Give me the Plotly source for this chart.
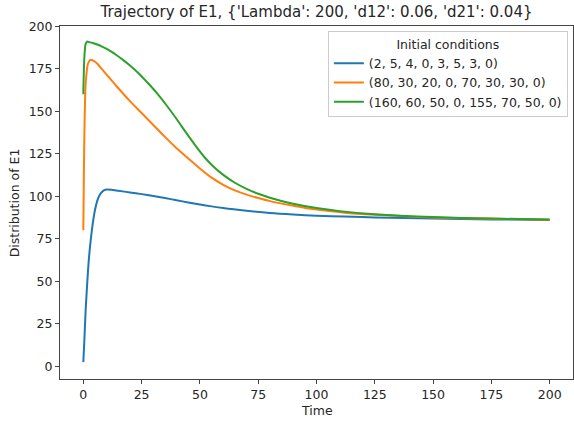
import plotly.graph_objects as go

title_text = "Trajectory of E1, {'Lambda': 200, 'd12': 0.06, 'd21': 0.04}"
legend_title = "Initial conditions"
x_label = "Time"
y_label = "Distribution of E1"
tick_values = [0, 25, 50, 75, 100, 125, 150, 175, 200]
series_names = ["(2, 5, 4, 0, 3, 5, 3, 0)",
                "(80, 30, 20, 0, 70, 30, 30, 0)",
                "(160, 60, 50, 0, 155, 70, 50, 0)"]
colors = ["#1f77b4", "#ff7f0e", "#2ca02c"]

t_blue = [0, 0.5, 1, 1.5, 2, 2.5, 3, 4, 5, 6, 7, 8, 9, 10, 12, 15, 20, 25, 30, 35, 40,
          45, 50, 55, 60, 70, 80, 90, 100, 112, 125, 150, 175, 200]
v_blue = [2.5, 17, 33, 45, 56, 65, 72, 83.5, 92, 97.5, 100.8, 102.6, 103.6, 104, 103.9, 103.3, 102.3, 101.3, 100.2, 99, 97.7,
          96.4, 95.2, 94.1, 93.1, 91.5, 90.2, 89.3, 88.6, 88.1, 87.6, 86.9, 86.4, 86.1]

t_orange = [0, 0.25, 0.5, 0.75, 1, 1.5, 2, 3, 4, 5, 6, 8, 10, 14, 20, 25, 30, 35, 40, 45, 50, 55, 60, 65, 70,
            75, 80, 90, 100, 112, 125, 150, 175, 200]
v_orange = [80, 115, 140, 157, 166, 174, 178, 180.3, 180, 179.2, 178, 174.8, 171.6, 165.2, 156, 149, 142, 135, 128.3, 122.3, 116.4, 111, 106.8, 103.5, 101,
            99, 97.2, 94.5, 92.2, 90.4, 89.2, 87.6, 86.8, 86.3]

t_green = [0, 0.25, 0.5, 0.75, 1, 1.6, 2.5, 4, 6, 8, 10, 12, 14, 17, 20, 24, 28, 32, 36, 40, 44, 48, 52, 56, 60, 65, 70,
           75, 80, 85, 90, 100, 110, 125, 150, 175, 200]
v_green = [160, 175, 183, 187.5, 189.5, 191, 190.7, 190.2, 189.3, 188.1, 186.7, 185.1, 183.3, 180.3, 177, 172, 166.2, 160, 153, 145.5, 137.6, 130, 123, 117.2, 112.6, 108, 104.4,
           101.5, 99.2, 97.3, 95.7, 93.1, 91.3, 89.5, 87.8, 86.9, 86.4]

ts = [t_blue, t_orange, t_green]
vs = [v_blue, v_orange, v_green]

fig = go.Figure()
for name, c, t, v in zip(series_names, colors, ts, vs):
    fig.add_trace(go.Scatter(x=t, y=v, mode="lines", name=name,
                             line=dict(color=c, width=2, shape="spline", smoothing=0.8)))

font = "DejaVu Sans"
txt = "#262626"
fig.update_layout(
    width=574, height=426,
    margin=dict(l=60, r=1, t=26, b=47),
    paper_bgcolor="white", plot_bgcolor="white",
    font=dict(family=font, size=12.5, color=txt),
    title=dict(text=title_text, x=0.5, xref="paper", y=0.972, yref="container",
               xanchor="center", yanchor="middle", font=dict(size=15, color=txt)),
    showlegend=True,
    legend=dict(x=0.99, y=0.985, xanchor="right", yanchor="top",
                bgcolor="rgba(255,255,255,0.8)", bordercolor="#cccccc", borderwidth=1,
                title=dict(text=legend_title, side="top center", font=dict(size=12.5)),
                font=dict(size=12.5), tracegroupgap=0, itemwidth=30),
    annotations=[
        dict(text=x_label, x=0.5, y=-0.088, xref="paper", yref="paper",
             xanchor="center", yanchor="middle", showarrow=False, font=dict(size=12.5, color=txt)),
        dict(text=y_label, x=-0.088, y=0.5, xref="paper", yref="paper", textangle=-90,
             xanchor="center", yanchor="middle", showarrow=False, font=dict(size=12.5, color=txt)),
    ],
)
fig.update_xaxes(range=[-10, 210], tickvals=tick_values, automargin=False,
                 showgrid=False, zeroline=False, showline=True, linecolor="#444", linewidth=1,
                 mirror=True, ticks="outside", ticklen=4, tickcolor="#444")
fig.update_yaxes(range=[-7.45, 200.2], tickvals=tick_values, automargin=False,
                 showgrid=False, zeroline=False, showline=True, linecolor="#444", linewidth=1,
                 mirror=True, ticks="outside", ticklen=4, tickcolor="#444")

fig.write_html("out.html", config={"displayModeBar": False},
               post_script="document.body.style.margin='0';document.body.style.overflow='hidden';")
